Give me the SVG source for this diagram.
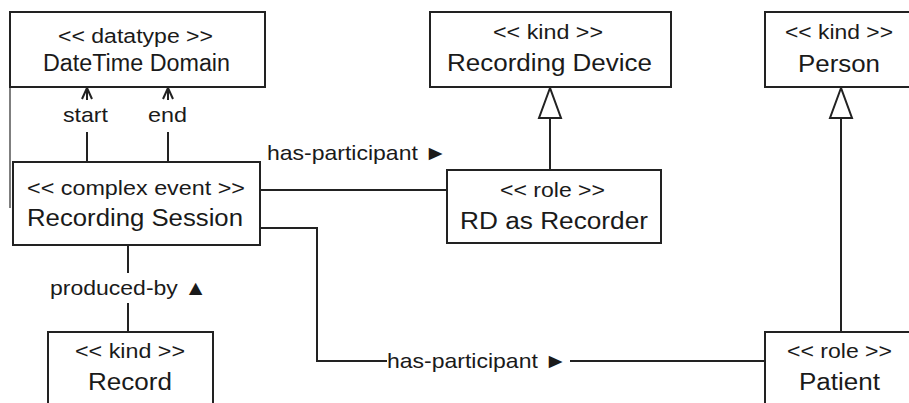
<svg xmlns="http://www.w3.org/2000/svg" width="909" height="403" viewBox="0 0 909 403">
<style>
.box{fill:#fff;stroke:#222;stroke-width:2}
.ln{fill:none;stroke:#222;stroke-width:2}
.gen{fill:#fff;stroke:#222;stroke-width:2;stroke-linejoin:miter}
text{font-family:"Liberation Sans",Arial,sans-serif;fill:#1a1a1a}
.st{font-size:20px}
.nm{font-size:23.5px}
.lb{font-size:21px}
</style>
<rect width="909" height="403" fill="#fff"/>
<line x1="10" y1="87" x2="10" y2="208" stroke="#555" stroke-width="1.5"/>
<g id="connectors">
  <line class="ln" x1="87" y1="162" x2="87" y2="132"/>
  <path class="ln" d="M87,100 V88 M82,99 L87,88 L92,99" stroke-width="1.8"/>
  <line class="ln" x1="168" y1="162" x2="168" y2="132"/>
  <path class="ln" d="M168,100 V88 M163,99 L168,88 L173,99" stroke-width="1.8"/>
  <line class="ln" x1="260" y1="190" x2="447" y2="190"/>
  <polyline class="ln" points="260,228 317,228 317,361 387,361"/>
  <line class="ln" x1="570" y1="361" x2="765" y2="361"/>
  <line class="ln" x1="128" y1="245" x2="128" y2="273"/>
  <line class="ln" x1="128" y1="303" x2="128" y2="332"/>
  <line class="ln" x1="550" y1="170" x2="550" y2="118"/>
  <polygon class="gen" points="550,88 539,118 561,118"/>
  <line class="ln" x1="841" y1="332" x2="841" y2="118"/>
  <polygon class="gen" points="841,88 830,118 852,118"/>
  <text class="lb" x="63" y="122" textLength="45" lengthAdjust="spacingAndGlyphs">start</text>
  <text class="lb" x="148" y="122" textLength="39" lengthAdjust="spacingAndGlyphs">end</text>
  <text class="lb" x="267" y="160" textLength="180" lengthAdjust="spacingAndGlyphs">has-participant ►</text>
  <text class="lb" x="50" y="295" textLength="157" lengthAdjust="spacingAndGlyphs">produced-by ▲</text>
  <text class="lb" x="387" y="368" textLength="180" lengthAdjust="spacingAndGlyphs">has-participant ►</text>
</g>
<g id="datetime-domain">
  <rect class="box" x="10" y="12" width="255" height="75"/>
  <text class="st" x="58" y="43" textLength="155" lengthAdjust="spacingAndGlyphs">&lt;&lt; datatype &gt;&gt;</text>
  <text class="nm" x="43" y="71" textLength="187" lengthAdjust="spacingAndGlyphs">DateTime Domain</text>
</g>
<g id="recording-session">
  <rect class="box" x="13" y="162" width="247" height="83"/>
  <text class="st" x="27" y="195" textLength="218" lengthAdjust="spacingAndGlyphs">&lt;&lt; complex event &gt;&gt;</text>
  <text class="nm" x="27" y="226" textLength="216" lengthAdjust="spacingAndGlyphs">Recording Session</text>
</g>
<g id="recording-device">
  <rect class="box" x="430" y="12" width="241" height="75"/>
  <text class="st" x="493" y="39" textLength="110" lengthAdjust="spacingAndGlyphs">&lt;&lt; kind &gt;&gt;</text>
  <text class="nm" x="447" y="71" textLength="205" lengthAdjust="spacingAndGlyphs">Recording Device</text>
</g>
<g id="rd-as-recorder">
  <rect class="box" x="447" y="170" width="214" height="73"/>
  <text class="st" x="500" y="197" textLength="105" lengthAdjust="spacingAndGlyphs">&lt;&lt; role &gt;&gt;</text>
  <text class="nm" x="460" y="229" textLength="188" lengthAdjust="spacingAndGlyphs">RD as Recorder</text>
</g>
<g id="person">
  <rect class="box" x="765" y="12" width="160" height="75"/>
  <text class="st" x="785" y="39" textLength="108" lengthAdjust="spacingAndGlyphs">&lt;&lt; kind &gt;&gt;</text>
  <text class="nm" x="798" y="72" textLength="82" lengthAdjust="spacingAndGlyphs">Person</text>
</g>
<g id="record">
  <rect class="box" x="48" y="332" width="165" height="90"/>
  <text class="st" x="75" y="358" textLength="110" lengthAdjust="spacingAndGlyphs">&lt;&lt; kind &gt;&gt;</text>
  <text class="nm" x="88" y="390" textLength="84" lengthAdjust="spacingAndGlyphs">Record</text>
</g>
<g id="patient">
  <rect class="box" x="765" y="332" width="160" height="90"/>
  <text class="st" x="787" y="358" textLength="105" lengthAdjust="spacingAndGlyphs">&lt;&lt; role &gt;&gt;</text>
  <text class="nm" x="799" y="390" textLength="81" lengthAdjust="spacingAndGlyphs">Patient</text>
</g>
</svg>
